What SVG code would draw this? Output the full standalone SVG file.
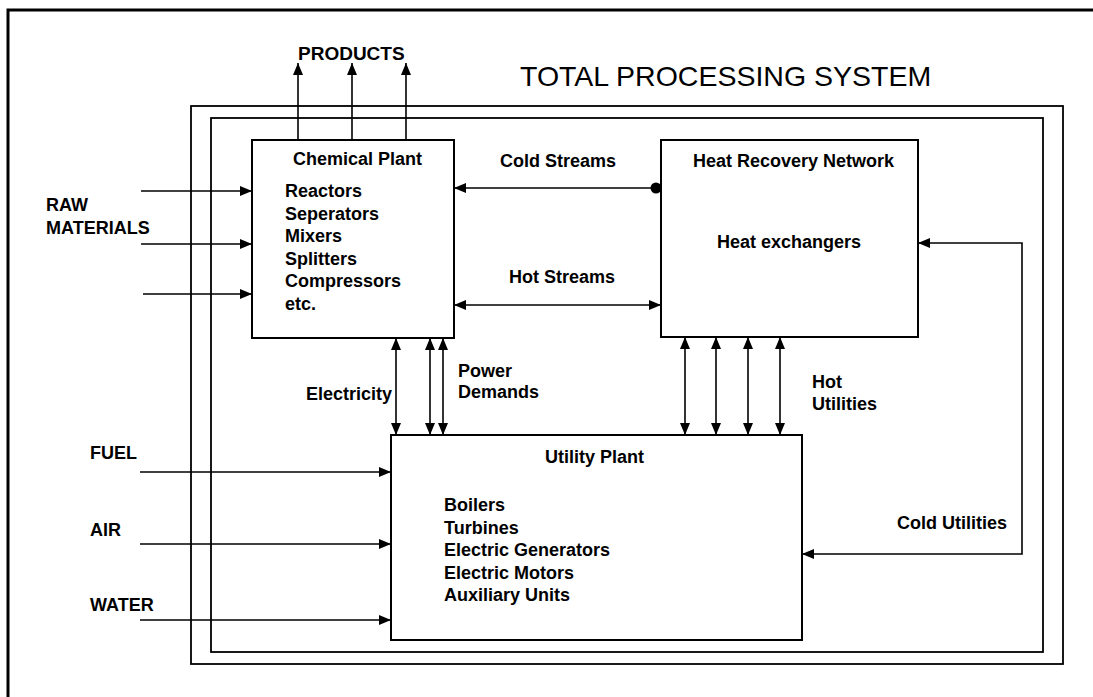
<svg xmlns="http://www.w3.org/2000/svg" width="1093" height="697" viewBox="0 0 1093 697">
<defs>
<marker id="ah" markerUnits="userSpaceOnUse" markerWidth="12" markerHeight="10" refX="12" refY="5" orient="auto-start-reverse" viewBox="0 0 12 10">
<path d="M0,0 L12,5 L0,10 z" fill="#000"/>
</marker>
<style>
text{font-family:"Liberation Sans",Arial,sans-serif;font-size:18px;font-weight:bold;fill:#000}
.title{font-size:28.5px;font-weight:normal}
.box{fill:none;stroke:#000;stroke-width:2}
.frame{fill:none;stroke:#000;stroke-width:1.8}
.c{fill:none;stroke:#000;stroke-width:1.6}
.a{marker-end:url(#ah)}
.b{marker-start:url(#ah);marker-end:url(#ah)}
</style>
</defs>
<rect width="1093" height="697" fill="#fff"/>
<path d="M8,697 V10 H1093" fill="none" stroke="#000" stroke-width="3"/>
<g id="frames">
<rect class="frame" x="191" y="106" width="872" height="558"/>
<rect class="frame" x="211" y="118" width="832" height="534"/>
</g>
<g id="title"><text class="title" x="520" y="86">TOTAL PROCESSING SYSTEM</text></g>
<g id="chemical-plant">
<rect class="box" x="252" y="140" width="202" height="198"/>
<text x="293" y="165">Chemical Plant</text>
<text x="285" y="197">Reactors<tspan x="285" dy="22.5">Seperators</tspan><tspan x="285" dy="22.5">Mixers</tspan><tspan x="285" dy="22.5">Splitters</tspan><tspan x="285" dy="22.5">Compressors</tspan><tspan x="285" dy="22.5">etc.</tspan></text>
</g>
<g id="heat-recovery-network">
<rect class="box" x="661" y="140" width="257" height="197"/>
<text x="693" y="167">Heat Recovery Network</text>
<text x="717" y="248">Heat exchangers</text>
</g>
<g id="utility-plant">
<rect class="box" x="391" y="435" width="411" height="205"/>
<text x="545" y="463">Utility Plant</text>
<text x="444" y="511">Boilers<tspan x="444" dy="22.5">Turbines</tspan><tspan x="444" dy="22.5">Electric Generators</tspan><tspan x="444" dy="22.5">Electric Motors</tspan><tspan x="444" dy="22.5">Auxiliary Units</tspan></text>
</g>
<g id="connectors">
<path class="c a" d="M298,140 V63"/>
<path class="c a" d="M352,140 V63"/>
<path class="c a" d="M406,140 V63"/>
<path class="c a" d="M141,191 H252"/>
<path class="c a" d="M141,244 H252"/>
<path class="c a" d="M143,294 H252"/>
<path class="c a" d="M656,188 H454"/>
<circle cx="656" cy="188" r="5.5" fill="#000"/>
<path class="c b" d="M454,305 H661"/>
<path class="c b" d="M396,338 V435"/>
<path class="c b" d="M430,338 V435"/>
<path class="c b" d="M443,338 V435"/>
<path class="c b" d="M685,337 V435"/>
<path class="c b" d="M716,337 V435"/>
<path class="c b" d="M748,337 V435"/>
<path class="c b" d="M780,337 V435"/>
<path class="c b" d="M918,243 H1022 V554 H802"/>
<path class="c a" d="M140,472 H391"/>
<path class="c a" d="M140,544 H391"/>
<path class="c a" d="M140,620 H391"/>
</g>
<g id="labels">
<text x="298" y="60" style="font-size:19px">PRODUCTS</text>
<text x="46" y="211">RAW</text>
<text x="46" y="234">MATERIALS</text>
<text x="500" y="167">Cold Streams</text>
<text x="509" y="283">Hot Streams</text>
<text x="392" y="400" text-anchor="end">Electricity</text>
<text x="458" y="377">Power</text>
<text x="458" y="398">Demands</text>
<text x="812" y="388">Hot</text>
<text x="812" y="410">Utilities</text>
<text x="1007" y="529" text-anchor="end">Cold Utilities</text>
<text x="90" y="459">FUEL</text>
<text x="90" y="536">AIR</text>
<text x="90" y="611">WATER</text>
</g>
</svg>
